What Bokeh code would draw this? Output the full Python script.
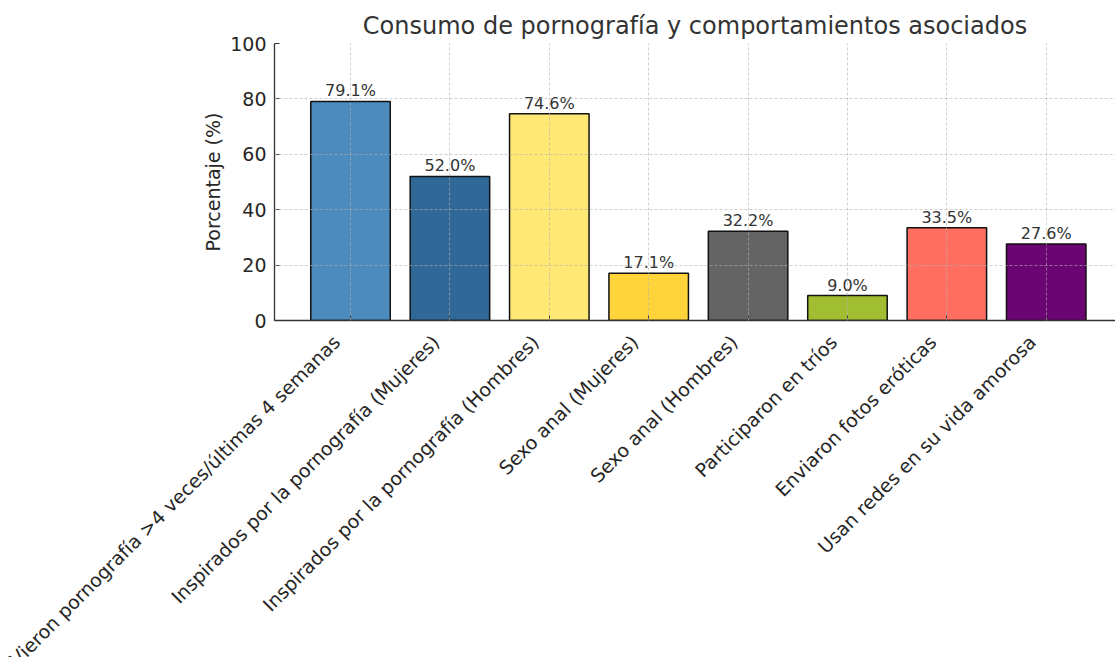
import math
from bokeh.plotting import figure
from bokeh.layouts import column
from bokeh.models import ColumnDataSource, Range1d, FixedTicker
from bokeh.core.properties import value
from bokeh.embed import file_html
from bokeh.resources import INLINE

categories = [
    "Vieron pornografía >4 veces/últimas 4 semanas",
    "Inspirados por la pornografía (Mujeres)",
    "Inspirados por la pornografía (Hombres)",
    "Sexo anal (Mujeres)",
    "Sexo anal (Hombres)",
    "Participaron en tríos",
    "Enviaron fotos eróticas",
    "Usan redes en su vida amorosa",
]
values = [79.1, 52.0, 74.6, 17.1, 32.2, 9.0, 33.5, 27.6]
colors = ["#4B8BBE", "#306998", "#FFE873", "#FFD43B", "#646464", "#A1BE32", "#FF6F61", "#6A0572"]
y_ticks = [0, 20, 40, 60, 80, 100]
title = "Consumo de pornografía y comportamientos asociados"
y_label = "Porcentaje (%)"

FONT = "DejaVu Sans"
W = 1115
H1, H2 = 331, 326
LEFT = 274
X0, X1 = -0.765, 7.697

xs = list(range(len(categories)))
src = ColumnDataSource(dict(
    x=xs, top=values, color=colors,
    label=[f"{v:.1f}%" for v in values],
    cat=categories,
    ylab=[-7] * len(categories),
))

# main chart
p = figure(width=W, height=H1,
           x_range=Range1d(X0, X1), y_range=Range1d(0, 100),
           output_backend="svg", toolbar_location=None,
           min_border_left=LEFT, min_border_right=0,
           min_border_top=43, min_border_bottom=H1 - 320)
p.frame_align = False

p.vbar(x="x", top="top", bottom=0, width=0.8, fill_color="color",
       line_color="#111111", line_width=1.5, source=src)
p.text(x="x", y="top", text="label", text_align="center", text_baseline="bottom",
       y_offset=-1, text_font_size="16px", text_color="#333333",
       text_font=value(FONT), source=src)

p.title.text = title
p.title.text_font = FONT
p.title.text_font_size = "24px"
p.title.text_font_style = "normal"
p.title.text_color = "#333333"
p.title.align = "center"
p.title.standoff = 8

p.outline_line_color = None

p.xaxis.ticker = FixedTicker(ticks=xs)
p.xaxis.major_label_overrides = {i: "" for i in xs}
p.xaxis.major_label_standoff = 0
p.xaxis.major_label_text_font_size = "4px"
p.yaxis.ticker = FixedTicker(ticks=y_ticks)
p.yaxis.axis_label = y_label

for ax in (p.xaxis[0], p.yaxis[0]):
    ax.axis_line_color = "#333333"
    ax.axis_line_width = 1.3
    ax.major_tick_in = 5
    ax.major_tick_out = 0
    ax.major_tick_line_color = "#333333"
    ax.minor_tick_line_color = None
    ax.major_label_text_font = FONT
    ax.major_label_text_color = "#262626"
    ax.axis_label_text_font = FONT
    ax.axis_label_text_font_size = "19px"
    ax.axis_label_text_font_style = "normal"
    ax.axis_label_text_color = "#262626"
p.yaxis.major_label_text_font_size = "19px"
p.yaxis.major_label_standoff = 8
p.yaxis.axis_label_standoff = 3

for g in (p.xgrid[0], p.ygrid[0]):
    g.grid_line_color = "#b0b0b0"
    g.grid_line_alpha = 0.6
    g.grid_line_dash = "3 2"
    g.grid_line_width = 1
    g.level = "overlay"

# rotated category labels strip, sharing the horizontal scale of the chart
px_per_unit = (W - LEFT) / (X1 - X0)
q = figure(width=W, height=H2,
           x_range=Range1d(X0 - LEFT / px_per_unit, X1), y_range=Range1d(-H2, 0),
           output_backend="svg", toolbar_location=None,
           min_border_left=0, min_border_right=0, min_border_top=0, min_border_bottom=0,
           x_axis_location=None, y_axis_location=None)
q.frame_align = False
q.outline_line_color = None
q.xgrid.visible = False
q.ygrid.visible = False
q.text(x="x", y="ylab", text="cat", angle=math.pi / 4, x_offset=-14,
       text_align="right", text_baseline="alphabetic",
       text_font=value(FONT), text_font_size="19px", text_color="#262626",
       source=src)

layout = column(p, q, spacing=0)
open("out.html", "w").write(file_html(layout, INLINE))
